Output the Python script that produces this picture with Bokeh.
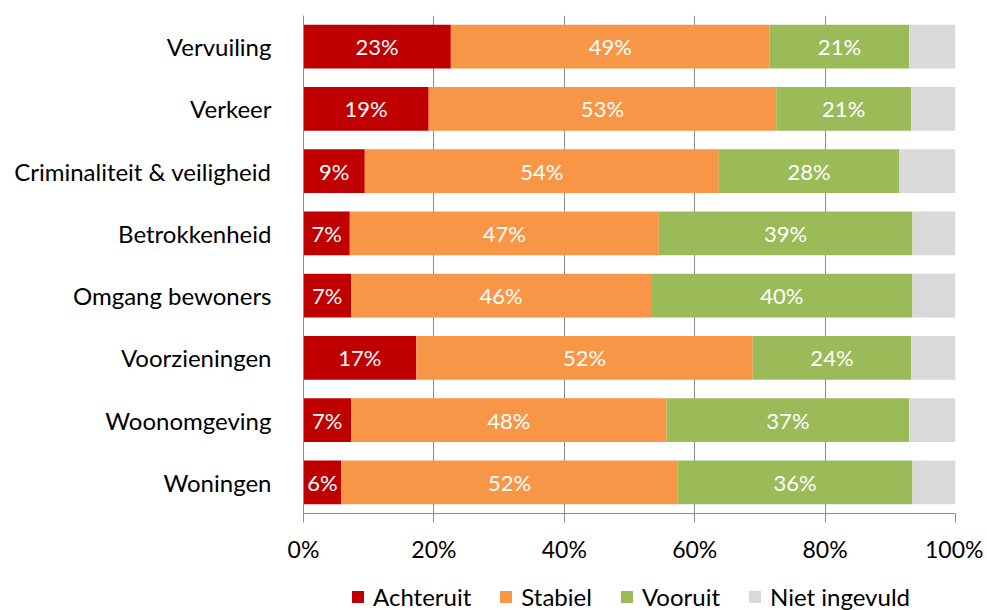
from bokeh.plotting import figure
from bokeh.layouts import column
from bokeh.models import ColumnDataSource, Legend, LegendItem, FactorRange, PrintfTickFormatter, FixedTicker
from bokeh.embed import file_html
from bokeh.resources import INLINE
from bokeh.core.properties import value

categories = ["Vervuiling", "Verkeer", "Criminaliteit & veiligheid", "Betrokkenheid",
              "Omgang bewoners", "Voorzieningen", "Woonomgeving", "Woningen"]
achteruit = [22.6, 19.2, 9.4, 7.1, 7.3, 17.3, 7.3, 5.8]
stabiel = [48.9, 53.3, 54.3, 47.4, 46.0, 51.6, 48.4, 51.6]
vooruit = [21.4, 20.7, 27.7, 38.9, 40.1, 24.3, 37.2, 36.0]
niet_ingevuld = [round(100 - a - s - v, 1) for a, s, v in zip(achteruit, stabiel, vooruit)]
series_names = ["Achteruit", "Stabiel", "Vooruit", "Niet ingevuld"]
colors = ["#C00000", "#F79646", "#9BBB59", "#D9D9D9"]
x_ticks = [0, 20, 40, 60, 80, 100]

FONT = "Lato"

src = ColumnDataSource(dict(cat=categories, Achteruit=achteruit, Stabiel=stabiel,
                            Vooruit=vooruit, **{"Niet ingevuld": niet_ingevuld}))

p = figure(frame_width=652, frame_height=498, y_range=FactorRange(*reversed(categories)),
           x_range=(0, 100), output_backend="svg", toolbar_location=None,
           min_border_left=303, min_border_right=28, min_border_top=15, min_border_bottom=0)
p.outline_line_color = None

renderers = p.hbar_stack(series_names, y="cat", height=0.7, source=src,
                         color=colors, line_color=None)

# labels
cum = [0.0] * len(categories)
for name, vals in [("Achteruit", achteruit), ("Stabiel", stabiel), ("Vooruit", vooruit)]:
    centers = [c + v / 2 for c, v in zip(cum, vals)]
    cum = [c + v for c, v in zip(cum, vals)]
    lsrc = ColumnDataSource(dict(x=centers, y=categories, t=[f"{int(v + 0.5)}%" for v in vals]))
    p.text(x="x", y="y", text="t", source=lsrc, text_color="white",
           text_font=value(FONT), text_font_size="22px", text_align="center",
           text_baseline="middle")

p.xgrid.ticker = FixedTicker(ticks=x_ticks)
p.xgrid.grid_line_color = "#8C8C8C"
p.ygrid.grid_line_color = None

p.xaxis.ticker = FixedTicker(ticks=x_ticks)
p.xaxis.formatter = PrintfTickFormatter(format="%d%%")
p.xaxis.axis_line_color = "#8C8C8C"
p.xaxis.major_tick_line_color = "#8C8C8C"
p.xaxis.major_tick_out = 9
p.xaxis.major_tick_in = 0
p.xaxis.minor_tick_line_color = None
p.xaxis.major_label_standoff = 12
p.xaxis.major_label_text_font = FONT
p.xaxis.major_label_text_font_size = "23px"
p.xaxis.major_label_text_color = "#000000"

p.yaxis.axis_line_color = "#8C8C8C"
p.yaxis.major_tick_line_color = None
p.yaxis.minor_tick_line_color = None
p.yaxis.major_label_standoff = 26
p.yaxis.major_label_text_font = FONT
p.yaxis.major_label_text_font_size = "24px"
p.yaxis.major_label_text_color = "#000000"

# legend strip (frame aligned with the chart frame by the column layout)
pl = figure(frame_width=652, frame_height=46, x_range=(0, 1), y_range=(0, 1), output_backend="svg",
            toolbar_location=None, x_axis_type=None, y_axis_type=None,
            min_border_left=303, min_border_right=28, min_border_top=0, min_border_bottom=0)
pl.outline_line_color = None
pl.grid.visible = False
leg_renderers = [pl.rect(x=[5], y=[5], width=1, height=1, fill_color=c, line_color=None) for c in colors]
legend = Legend(items=[LegendItem(label=n, renderers=[r]) for n, r in zip(series_names, leg_renderers)],
                orientation="horizontal", location=(47, 0), border_line_color=None,
                background_fill_alpha=0,
                glyph_width=15, glyph_height=15, label_standoff=8, spacing=27,
                label_text_font=FONT, label_text_font_size="24px", label_text_color="#000000",
                padding=0, margin=0)
pl.add_layout(legend, "center")

layout = column(p, pl, spacing=0)
open("out.html", "w").write(file_html(layout, INLINE))
